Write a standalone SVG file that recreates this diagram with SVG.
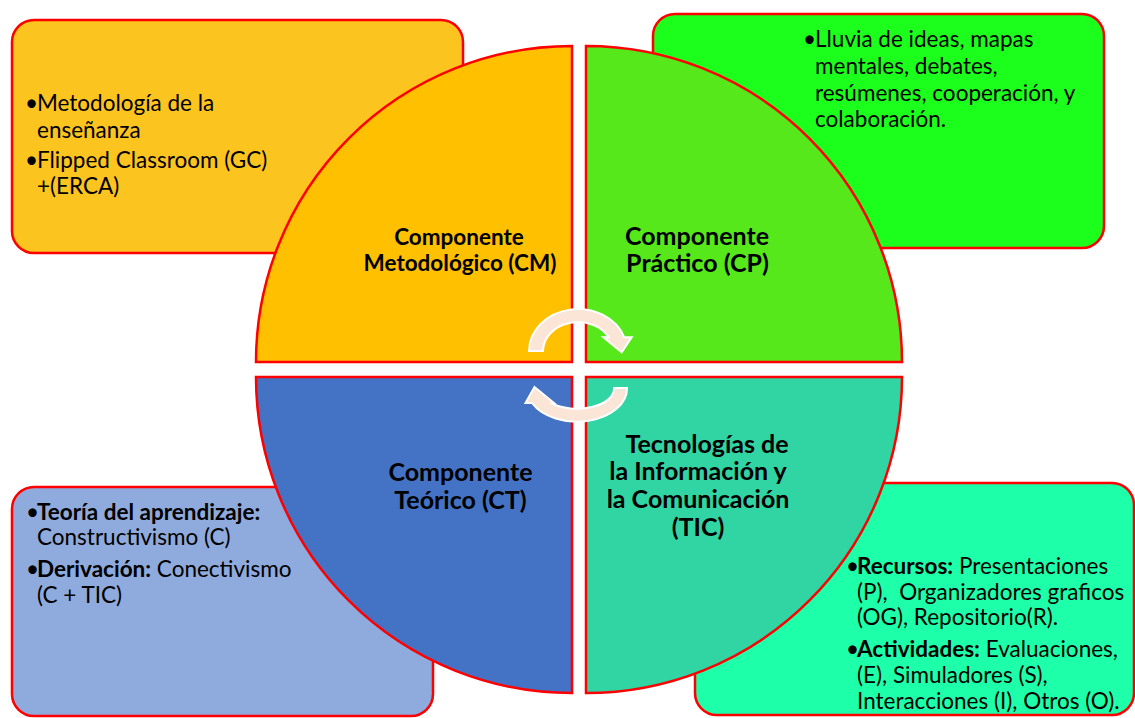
<svg xmlns="http://www.w3.org/2000/svg" width="1135" height="718" viewBox="0 0 1135 718">
<style>
.box{stroke:#FF0000;stroke-width:2.5}
.quad{stroke:#FF0000;stroke-width:2.5}
.t{font-family:Lato,"Liberation Sans",sans-serif;font-size:22.5px;fill:#000}
.b{font-weight:bold}
.lbl{font-family:Lato,"Liberation Sans",sans-serif;font-weight:bold;font-size:25px;fill:#000;text-anchor:middle}
.arr{fill:#FBE5D6;stroke:#FFFFFF;stroke-width:2}
</style>
<rect width="1135" height="718" fill="#FFFFFF"/>
<g id="box-cm">
<rect class="box" x="12" y="20" width="451" height="233" rx="22" fill="#FBC41F"/>
<text class="t" x="25" y="111">•</text><text class="t" x="37" y="111">Metodología de la</text>
<text class="t" x="37" y="137.5">enseñanza</text>
<text class="t" x="25" y="167.5">•</text><text class="t" x="37" y="167.5">Flipped Classroom (GC)</text>
<text class="t" x="37" y="194">+(ERCA)</text>
</g>
<g id="box-cp">
<rect class="box" x="653" y="14" width="451" height="234" rx="22" fill="#1CFF1C"/>
<text class="t" x="803" y="47">•</text><text class="t" x="815" y="47">Lluvia de ideas, mapas</text>
<text class="t" x="815" y="73.5">mentales, debates,</text>
<text class="t" x="815" y="100.5">resúmenes, cooperación, y</text>
<text class="t" x="815" y="126.5">colaboración.</text>
</g>
<g id="box-ct">
<rect class="box" x="12" y="487" width="421" height="229" rx="22" fill="#8FAADC"/>
<text class="t" x="26" y="520">•</text><text class="t b" x="37" y="520">Teoría del aprendizaje:</text>
<text class="t" x="37" y="545">Constructivismo (C)</text>
<text class="t" x="26" y="577">•</text><text class="t" x="37" y="577"><tspan class="b">Derivación:</tspan> Conectivismo</text>
<text class="t" x="37" y="603">(C + TIC)</text>
</g>
<g id="box-tic">
<rect class="box" x="695" y="483" width="439" height="232" rx="22" fill="#1DFFA8"/>
<text class="t" x="846" y="573.5">•</text><text class="t" x="857" y="573.5"><tspan class="b">Recursos:</tspan> Presentaciones</text>
<text class="t" x="857" y="600" xml:space="preserve">(P),  Organizadores graficos</text>
<text class="t" x="857" y="625">(OG), Repositorio(R).</text>
<text class="t" x="846" y="657">•</text><text class="t" x="857" y="657"><tspan class="b">Actividades:</tspan> Evaluaciones,</text>
<text class="t" x="857" y="683">(E), Simuladores (S),</text>
<text class="t" x="857" y="708.5">Interacciones (I), Otros (O).</text>
</g>
<g id="q-cm">
<path class="quad" d="M572 362 L256 362 A316 316 0 0 1 572 46 Z" fill="#FFC000"/>
<text class="lbl" x="459" y="244.5" style="font-size:22.5px">Componente</text>
<text class="lbl" x="460" y="270.5" style="font-size:22.5px">Metodológico (CM)</text>
</g>
<g id="q-cp">
<path class="quad" d="M586 362 L586 46 A316 316 0 0 1 902 362 Z" fill="#56E81A"/>
<text class="lbl" x="697" y="244.5">Componente</text>
<text class="lbl" x="697.5" y="272">Práctico (CP)</text>
</g>
<g id="q-ct">
<path class="quad" d="M572 377 L572 693 A316 316 0 0 1 256 377 Z" fill="#4472C4"/>
<text class="lbl" x="460.5" y="480.5">Componente</text>
<text class="lbl" x="460.5" y="508.5">Teórico (CT)</text>
</g>
<g id="q-tic">
<path class="quad" d="M586 377 L902 377 A316 316 0 0 1 586 693 Z" fill="#30D5A3"/>
<text class="lbl" x="707" y="452.5">Tecnologías de</text>
<text class="lbl" x="698" y="480">la Información y</text>
<text class="lbl" x="698" y="508">la Comunicación</text>
<text class="lbl" x="698" y="536">(TIC)</text>
</g>
<g id="connectors">
<path class="arr" d="M529 351 A49 42 0 0 1 624.3 337.3 L631.7 337.3 L621.7 352.3 L603.3 337.3 L608.8 337.3 A35 29 0 0 0 543 351 Z"/>
<path class="arr" d="M627 388 A50 33 0 0 1 532 403 L525.5 403 L534.5 387 L554 403 L551 403 A37 20 0 0 0 614 388 Z"/>
</g>
</svg>
